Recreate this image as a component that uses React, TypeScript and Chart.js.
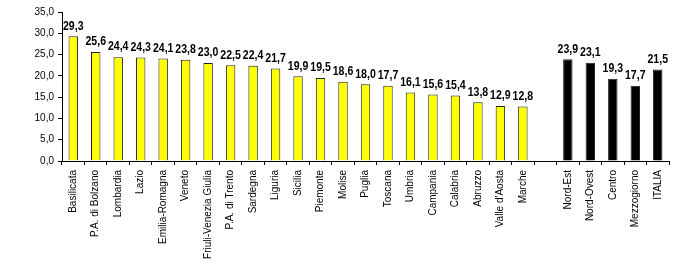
import React, { useEffect, useRef } from "react";
import { Chart, registerables } from "chart.js";

Chart.register(...registerables);

const regionLabels = [
  "Basilicata", "P.A. di Bolzano", "Lombardia", "Lazio", "Emilia-Romagna", "Veneto",
  "Friuli-Venezia Giulia", "P.A. di Trento", "Sardegna", "Liguria", "Sicilia", "Piemonte",
  "Molise", "Puglia", "Toscana", "Umbria", "Campania", "Calabria", "Abruzzo",
  "Valle d'Aosta", "Marche",
];
const regionValues = [
  29.3, 25.6, 24.4, 24.3, 24.1, 23.8, 23.0, 22.5, 22.4, 21.7, 19.9, 19.5,
  18.6, 18.0, 17.7, 16.1, 15.6, 15.4, 13.8, 12.9, 12.8,
];
const areaLabels = ["Nord-Est", "Nord-Ovest", "Centro", "Mezzogiorno", "ITALIA"];
const areaValues = [23.9, 23.1, 19.3, 17.7, 21.5];
const yTicks = [0, 5, 10, 15, 20, 25, 30, 35];

const fmt = (v: number) => v.toFixed(1).replace(".", ",");

export default function App() {
  const ref = useRef<HTMLCanvasElement | null>(null);
  useEffect(() => {
    document.body.style.margin = "0";
    const labels = [...regionLabels, "", ...areaLabels];
    const data: (number | null)[] = [...regionValues, null, ...areaValues];
    const colors = [
      ...regionValues.map(() => "#FFFF00"),
      "#000000",
      ...areaValues.map(() => "#000000"),
    ];
    const valueLabels = {
      id: "valueLabels",
      afterDatasetsDraw(chart: any) {
        const ctx = chart.ctx;
        const meta = chart.getDatasetMeta(0);
        ctx.save();
        ctx.font = "bold 12px 'Liberation Sans', Arial, sans-serif";
        ctx.fillStyle = "#000";
        ctx.textAlign = "center";
        ctx.textBaseline = "bottom";
        meta.data.forEach((el: any, i: number) => {
          const v = data[i];
          if (v == null) return;
          ctx.save();
          ctx.translate(el.x, el.y - 4);
          ctx.scale(0.88, 1);
          ctx.fillText(fmt(v), 0, 0);
          ctx.restore();
        });
        ctx.restore();
      },
    };
    const chart = new Chart(ref.current!, {
      type: "bar",
      data: {
        labels,
        datasets: [
          {
            data,
            backgroundColor: colors,
            borderColor: "#222222",
            borderWidth: 1,
            barPercentage: 0.42,
            categoryPercentage: 1,
          },
        ],
      },
      options: {
        animation: false,
        responsive: false,
        maintainAspectRatio: false,
        layout: { padding: { top: 12, right: 31, left: 0, bottom: 0 } },
        plugins: { legend: { display: false }, tooltip: { enabled: false } },
        scales: {
          x: {
            afterFit: (s: any) => { s.height = 106; },
            grid: {
              offset: true,
              drawOnChartArea: false,
              drawTicks: true,
              tickLength: 4,
              color: "#000",
            },
            border: { color: "#000", width: 1 },
            ticks: {
              autoSkip: false,
              minRotation: 90,
              maxRotation: 90,
              color: "#000",
              padding: 5,
              font: { family: "'Liberation Sans', Arial, sans-serif", size: 10 },
            },
          },
          y: {
            min: 0,
            max: 35,
            afterFit: (s: any) => { s.width = 62; },
            afterBuildTicks: (s: any) => { s.ticks = yTicks.map((v) => ({ value: v })); },
            grid: {
              drawOnChartArea: false,
              drawTicks: true,
              tickLength: 4,
              color: "#000",
            },
            border: { color: "#000", width: 1 },
            ticks: {
              color: "#000",
              padding: 4,
              callback: (v: any) => fmt(Number(v)),
              font: { family: "'Liberation Sans', Arial, sans-serif", size: 10 },
            },
          },
        },
      },
      plugins: [valueLabels],
    });
    return () => chart.destroy();
  }, []);
  return (
    <div style={{ width: 700, height: 267, position: "relative" }}>
      <canvas ref={ref} width={700} height={267} style={{ width: 700, height: 267, display: "block" }} />
    </div>
  );
}
